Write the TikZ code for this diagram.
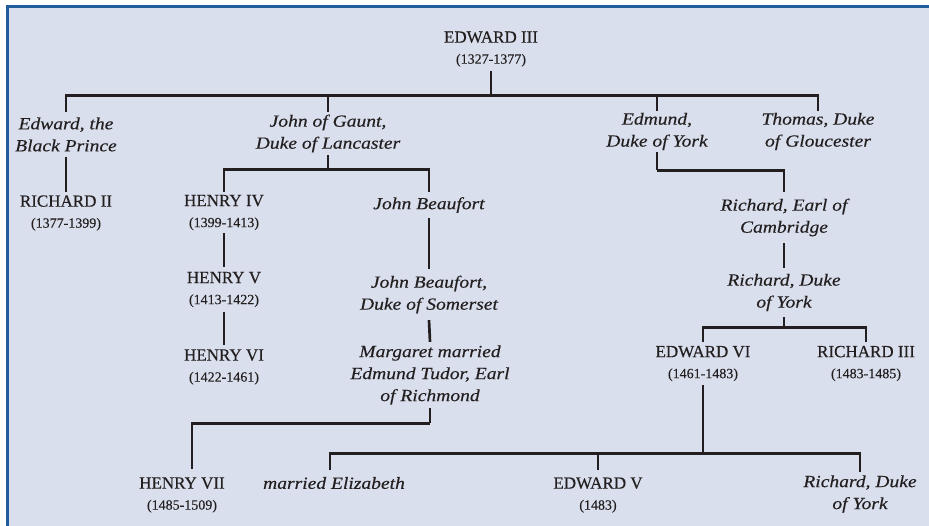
\documentclass[tikz,border=0pt]{standalone}
\usepackage{fontspec}
\setmainfont{Liberation Serif}[FakeBold=0.35]
\newfontfamily\itfam{Liberation Serif}[FakeStretch=1.15,FakeBold=0.35]
\usetikzlibrary{calc}
\definecolor{bg}{HTML}{D9DFEC}
\definecolor{framecol}{HTML}{1F5C99}
\definecolor{ink}{HTML}{231F20}
\newcommand\dt[1]{{\fontsize{14}{16}\selectfont #1}}
\begin{document}
\begin{tikzpicture}[x=1pt,y=-1pt,
  royal/.style={font=\fontsize{17}{21}\selectfont, align=center, inner sep=0pt, text=ink},
  ital/.style={font=\itfam\itshape\fontsize{17}{22}\selectfont, align=center, inner sep=0pt, text=ink},
  conn/.style={draw=ink, line width=2.7pt}]
\useasboundingbox (0,0) rectangle (929,525);
\clip (0,0) rectangle (929,525);
\fill[white] (0,0) rectangle (929,525);
\fill[bg] (7.5,6.5) rectangle (945,545);
\draw[framecol, line width=3pt] (7.5,6.5) rectangle (945,545);

% nodes
\node[royal, minimum height=44pt] (e3) at (491,49) {EDWARD III\\\dt{(1327-1377)}};
\node[ital, minimum height=45pt] (edw) at (66,134.5) {Edward, the\\Black Prince};
\node[ital, minimum height=43pt] (gaunt) at (328,133.5) {John of Gaunt,\\Duke of Lancaster};
\node[ital, minimum height=41pt] (edm) at (657,131.5) {Edmund,\\Duke of York};
\node[ital, minimum height=41pt] (tho) at (818,131.5) {Thomas, Duke\\of Gloucester};

\node[royal, minimum height=42pt] (r2) at (66,213) {RICHARD II\\\dt{(1377-1399)}};
\node[royal, minimum height=41pt] (h4) at (224,212.5) {HENRY IV\\\dt{(1399-1413)}};
\node[ital, minimum height=26pt] (jb) at (429,205) {John Beaufort};
\node[royal, minimum height=45pt] (h5) at (224,289.5) {HENRY V\\\dt{(1413-1422)}};
\node[royal, minimum height=44pt] (h6) at (224,367) {HENRY VI\\\dt{(1422-1461)}};
\node[ital, minimum height=51pt] (jbs) at (429,294.5) {John Beaufort,\\Duke of Somerset};
\node[ital, minimum height=66pt] (mar) at (430,375) {Margaret married\\Edmund Tudor, Earl\\of Richmond};
\node[royal, minimum height=52pt] (h7) at (182,495) {HENRY VII\\\dt{(1485-1509)}};

\node[ital, minimum height=51pt] (rec) at (784,217.5) {Richard, Earl of\\Cambridge};
\node[ital, minimum height=49pt] (rdy) at (784,292.5) {Richard, Duke\\of York};
\node[royal, minimum height=43pt] (e6) at (703,363.5) {EDWARD VI\\\dt{(1461-1483)}};
\node[royal, minimum height=43pt] (r3) at (866,363.5) {RICHARD III\\\dt{(1483-1485)}};
\node[ital, minimum height=26pt] (me) at (334,483) {married Elizabeth};
\node[royal, minimum height=50pt] (e5) at (598,495) {EDWARD V\\\dt{(1483)}};
\node[ital, minimum height=44pt] (rdy2) at (860,494) {Richard, Duke\\of York};

% connectors
\draw[conn] (e3.south) -- ++(0,24) coordinate (b1);
\draw[conn] (edw.north) |- (b1) -| (tho.north);
\draw[conn] (gaunt.north) -- (gaunt.north |- b1);
\draw[conn] (edm.north) -- (edm.north |- b1);

\draw[conn] (edw.south) -- (r2.north);

\draw[conn] (gaunt.south) -- ++(0,14) coordinate (b2);
\draw[conn] (h4.north) |- (b2) -| (jb.north);
\draw[conn] (h4.south) -- (h5.north);
\draw[conn] (h5.south) -- (h6.north);
\draw[conn] (jb.south) -- (jbs.north);
\draw[conn] (jbs.south) -- (mar.north);
\draw[conn] (mar.south) -- ++(0,15) coordinate (b3);
\draw[conn] (b3) -| ([xshift=10pt]h7.north);

\draw[conn] (edm.south) -- ++(0,18) coordinate (b4);
\draw[conn] (b4) -| (rec.north);
\draw[conn] (rec.south) -- (rdy.north);
\draw[conn] (rdy.south) -- ++(0,10) coordinate (b5);
\draw[conn] (e6.north) |- (b5) -| (r3.north);
\draw[conn] (e6.south) -- ++(0,68) coordinate (b6);
\draw[conn] ([xshift=-4pt]me.north) |- (b6) -| (rdy2.north);
\draw[conn] (e5.north) -- (e5.north |- b6);
\end{tikzpicture}
\end{document}
